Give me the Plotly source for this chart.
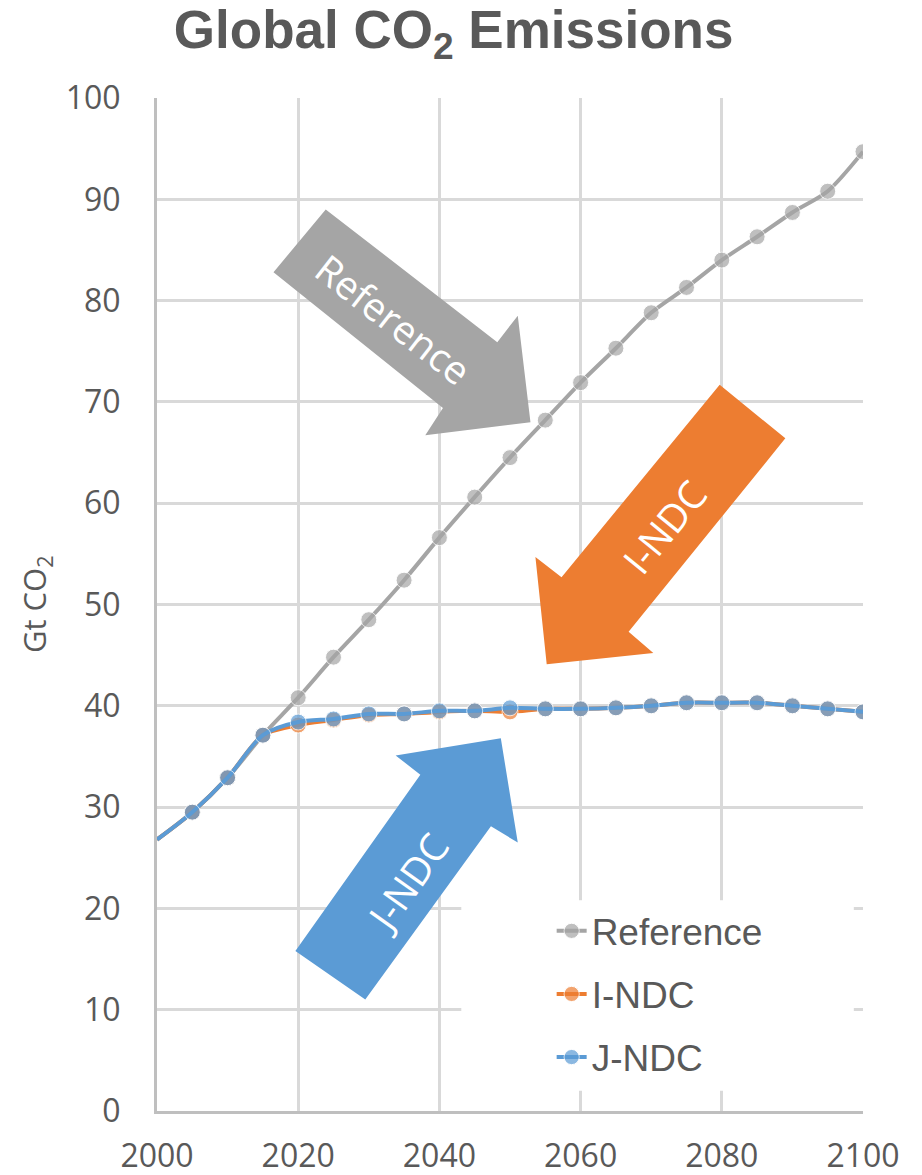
import plotly.graph_objects as go

# Emission pathways, Gt CO2 per year
years = [2000, 2005, 2010, 2015, 2020, 2025, 2030, 2035, 2040, 2045, 2050,
         2055, 2060, 2065, 2070, 2075, 2080, 2085, 2090, 2095, 2100]
reference = [26.8, 29.5, 32.9, 37.1, 40.8, 44.8, 48.5, 52.4, 56.6, 60.6, 64.5,
             68.2, 71.9, 75.3, 78.8, 81.3, 84.0, 86.3, 88.7, 90.8, 94.7]
i_ndc = [26.8, 29.5, 32.9, 37.1, 38.1, 38.6, 39.1, 39.2, 39.4, 39.5, 39.4,
         39.7, 39.7, 39.8, 40.0, 40.3, 40.3, 40.3, 40.0, 39.7, 39.4]
j_ndc = [26.8, 29.5, 32.9, 37.1, 38.4, 38.7, 39.2, 39.2, 39.5, 39.5, 39.8,
         39.7, 39.7, 39.8, 40.0, 40.3, 40.3, 40.3, 40.0, 39.7, 39.4]

series_names = ["Reference", "I-NDC", "J-NDC"]
series_values = [reference, i_ndc, j_ndc]
series_colors = ["#A5A5A5", "#ED7D31", "#5B9BD5"]

x_ticks = [2000, 2020, 2040, 2060, 2080, 2100]
y_ticks = [0, 10, 20, 30, 40, 50, 60, 70, 80, 90, 100]

TEXT = "#595959"
GRID = "#D9D9D9"
AXIS = "#BFBFBF"

fig = go.Figure()

# no marker on the first (2000) point
marker_sizes = [0] + [16] * (len(years) - 1)

for name, vals, col in zip(series_names, series_values, series_colors):
    fig.add_trace(go.Scatter(
        x=years, y=vals, name=name, legendgroup=name,
        mode="lines+markers",
        line=dict(color=col, width=4, shape="spline", smoothing=0.8),
        marker=dict(color=col, size=marker_sizes),
    ))

# block arrows (year, Gt CO2 outline points) with their labels
arrows = [
    dict(color="#A5A5A5", label="Reference", angle=37.8, center=(2033.5, 78.2),
         outline=[(2023.9, 89.0), (2048.2, 75.9), (2051.1, 78.5), (2052.9, 68.0),
                  (2038.0, 66.7), (2040.5, 69.4), (2016.5, 82.8)]),
    dict(color="#ED7D31", label="I-NDC", angle=-50.7, center=(2071.8, 57.7),
         outline=[(2079.7, 71.7), (2089.0, 66.4), (2066.8, 47.3), (2070.3, 45.2),
                  (2055.2, 44.1), (2053.6, 54.7), (2057.3, 52.7)]),
    dict(color="#5B9BD5", label="J-NDC", angle=-54.6, center=(2035.3, 22.6),
         outline=[(2019.6, 15.8), (2037.3, 33.2), (2033.8, 35.1), (2048.7, 36.8),
                  (2051.1, 26.5), (2047.3, 28.1), (2029.5, 11.0)]),
]

shapes = []
annotations = []
for a in arrows:
    pts = a["outline"]
    path = "M " + " L ".join(f"{x},{y}" for x, y in pts) + " Z"
    shapes.append(dict(type="path", path=path, xref="x", yref="y",
                       fillcolor=a["color"], line=dict(width=0), layer="between"))
    annotations.append(dict(x=a["center"][0], y=a["center"][1], xref="x", yref="y",
                            text=a["label"], showarrow=False, textangle=a["angle"],
                            xanchor="center", yanchor="middle",
                            font=dict(family="Open Sans", size=39, color="white")))

# white backing behind the legend
shapes.append(dict(type="rect", xref="x", yref="y", x0=2043.1, x1=2098.7, y0=2.0, y1=20.8,
                   fillcolor="white", line=dict(width=0), layer="between"))

# y-axis title
annotations.append(dict(x=-0.172, y=50, xref="paper", yref="y",
                        text="Gt CO<sub>2</sub>", showarrow=False, textangle=-90,
                        xanchor="center", yanchor="middle",
                        font=dict(family="Open Sans", size=31, color=TEXT)))

fig.update_layout(
    width=922, height=1175,
    margin=dict(l=157, r=59, t=98, b=64, autoexpand=False),
    paper_bgcolor="white", plot_bgcolor="white",
    title=dict(text="Global CO<sub>2</sub> Emissions", x=0.492, xanchor="center",
               y=0.991, yanchor="top", xref="container", yref="container",
               automargin=False,
               font=dict(family="Liberation Sans", size=53, color=TEXT, weight="bold")),
    showlegend=True,
    legend=dict(x=0.559, y=0.208, xanchor="left", yanchor="top",
                bgcolor="rgba(0,0,0,0)", tracegroupgap=12,
                font=dict(family="Liberation Sans", size=37, color=TEXT)),
    shapes=shapes,
    annotations=annotations,
)

fig.update_xaxes(range=[2000, 2100], tickvals=x_ticks, ticktext=[str(v) for v in x_ticks],
                 showgrid=True, gridcolor=GRID, gridwidth=2.5, automargin=False,
                 showline=True, linecolor=AXIS, linewidth=3,
                 ticks="", ticklabelstandoff=15, zeroline=False,
                 tickfont=dict(family="Open Sans", size=32, color=TEXT))
fig.update_yaxes(range=[0, 100], tickvals=y_ticks, ticktext=[str(v) for v in y_ticks],
                 showgrid=True, gridcolor=GRID, gridwidth=2.5, automargin=False,
                 showline=True, linecolor=AXIS, linewidth=3,
                 ticks="", ticklabelstandoff=27, zeroline=False,
                 tickfont=dict(family="Open Sans", size=32, color=TEXT))

fig.write_html("out.html")
